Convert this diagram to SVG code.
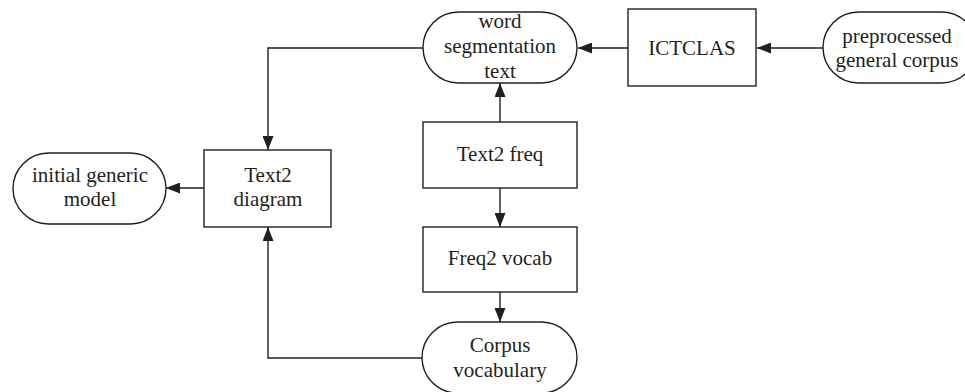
<svg xmlns="http://www.w3.org/2000/svg" width="965" height="392" viewBox="0 0 965 392">
<defs>
<style>
.n{fill:#fff;stroke:#231f20;stroke-width:1.4}
.c{fill:none;stroke:#231f20;stroke-width:1.4}
text{font-family:"Liberation Serif","Times New Roman",serif;font-size:21px;fill:#231f20;text-anchor:middle}
</style>
<marker id="ah" viewBox="0 0 14 11" refX="14" refY="5.5" markerWidth="14" markerHeight="11" markerUnits="userSpaceOnUse" orient="auto">
<path d="M0,0 L14,5.5 L0,11 Z" fill="#231f20"/>
</marker>
</defs>
<rect width="965" height="392" fill="#fff"/>
<g id="connectors">
<line class="c" x1="628" y1="48" x2="578" y2="48" marker-end="url(#ah)"/>
<line class="c" x1="823" y1="48" x2="757" y2="48" marker-end="url(#ah)"/>
<polyline class="c" points="423,48 268,48 268,150" marker-end="url(#ah)"/>
<line class="c" x1="500" y1="122" x2="500" y2="83" marker-end="url(#ah)"/>
<line class="c" x1="500" y1="188" x2="500" y2="227" marker-end="url(#ah)"/>
<line class="c" x1="500" y1="292" x2="500" y2="322" marker-end="url(#ah)"/>
<polyline class="c" points="422,358 268,358 268,227" marker-end="url(#ah)"/>
<line class="c" x1="204" y1="188" x2="166" y2="188" marker-end="url(#ah)"/>
</g>
<g id="wordseg">
<rect class="n" x="423" y="12" width="154" height="71" rx="35.5"/>
<text x="500" y="28">word</text>
<text x="500" y="53">segmentation</text>
<text x="500" y="78">text</text>
</g>
<g id="ictclas">
<rect class="n" x="628" y="9" width="128" height="77"/>
<text x="692" y="55">ICTCLAS</text>
</g>
<g id="preprocessed">
<rect class="n" x="823" y="12" width="154" height="71" rx="35.5"/>
<text x="897" y="43">preprocessed</text>
<text x="897" y="67">general corpus</text>
</g>
<g id="text2freq">
<rect class="n" x="423" y="122" width="154" height="66"/>
<text x="500" y="161">Text2 freq</text>
</g>
<g id="freq2vocab">
<rect class="n" x="423" y="227" width="154" height="65"/>
<text x="500" y="265">Freq2 vocab</text>
</g>
<g id="corpusvocab">
<rect class="n" x="422" y="322" width="155" height="71" rx="35.5"/>
<text x="500" y="352">Corpus</text>
<text x="500" y="377">vocabulary</text>
</g>
<g id="text2diagram">
<rect class="n" x="204" y="150" width="127" height="77"/>
<text x="268" y="182">Text2</text>
<text x="268" y="206">diagram</text>
</g>
<g id="initialmodel">
<rect class="n" x="13" y="153" width="153" height="71" rx="35.5"/>
<text x="90" y="182">initial generic</text>
<text x="90" y="206">model</text>
</g>
</svg>
